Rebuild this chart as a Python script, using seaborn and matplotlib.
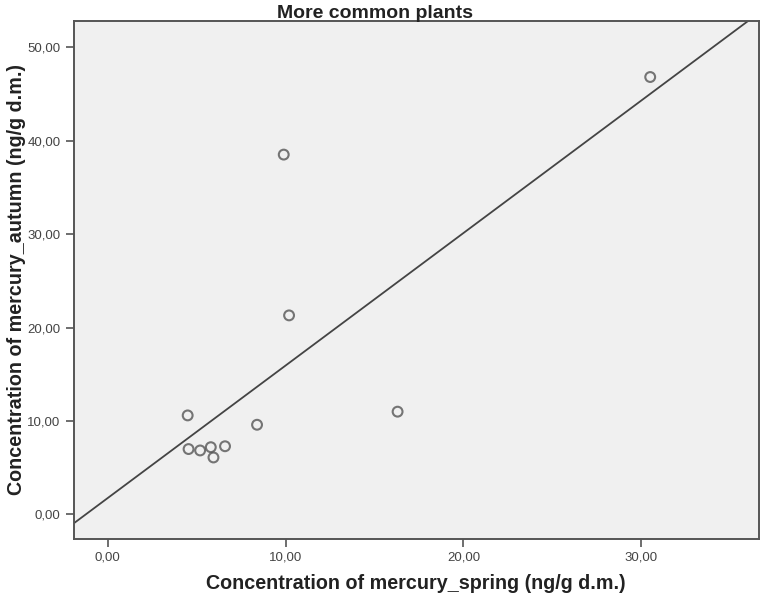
import matplotlib
matplotlib.use("Agg")
import numpy as np
import pandas as pd
import matplotlib.pyplot as plt
import seaborn as sns
from matplotlib.ticker import FuncFormatter

# values
mercury_spring = [30.5, 9.9, 10.2, 16.3, 4.5, 8.4, 4.55, 5.2, 5.8, 6.6, 5.95]
mercury_autumn = [46.8, 38.5, 21.3, 11.0, 10.6, 9.6, 7.0, 6.85, 7.2, 7.3, 6.1]
x_ticks = [0, 10, 20, 30]
y_ticks = [0, 10, 20, 30, 40, 50]

df = pd.DataFrame({"spring": mercury_spring, "autumn": mercury_autumn})

sns.set_style("white")
plt.rcParams["font.family"] = ["Liberation Sans", "DejaVu Sans"]

fig = plt.figure(figsize=(7.61, 5.98), dpi=100)
ax = fig.add_axes([0.097, 0.099, 0.9, 0.866])
ax.set_facecolor("#f0f0f0")
ax.set_xlim(-1.9, 36.6)
ax.set_ylim(-2.6, 52.8)

sns.regplot(data=df, x="spring", y="autumn", ax=ax, ci=None, truncate=False,
            scatter_kws=dict(s=50, facecolors="none", edgecolors="#555555", linewidths=1.5),
            line_kws=dict(color="#444444", lw=1.3))

fmt = FuncFormatter(lambda v, p: f"{v:.2f}".replace(".", ","))
ax.set_xticks(x_ticks)
ax.set_yticks(y_ticks)
ax.xaxis.set_major_formatter(fmt)
ax.yaxis.set_major_formatter(fmt)
ax.tick_params(axis="both", direction="out", length=6, width=1.2, color="#555555",
               labelsize=9.5, labelcolor="#444444", bottom=True, left=True)

for s in ax.spines.values():
    s.set_color("#555555")
    s.set_linewidth(1.4)

ax.set_xlabel("Concentration of mercury_spring (ng/g d.m.)", fontsize=14.2, fontweight="bold",
              color="#222222", labelpad=7)
ax.set_ylabel("Concentration of mercury_autumn (ng/g d.m.)", fontsize=14.2, fontweight="bold",
              color="#222222", labelpad=1)
ax.set_title("More common plants", fontsize=14, fontweight="bold", color="#222222",
             x=0.44, pad=2)

fig.savefig("out.png", dpi=100)
